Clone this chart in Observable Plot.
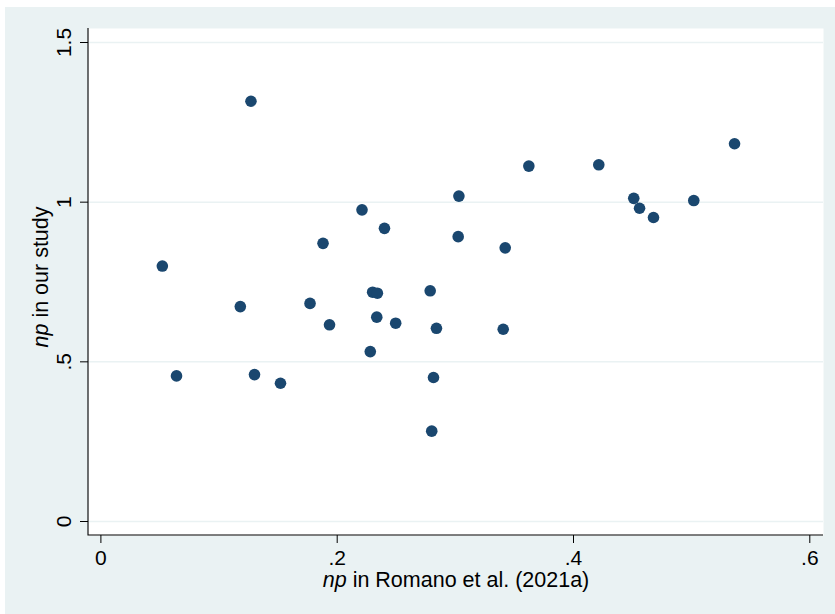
<!DOCTYPE html>
<html><head><meta charset="utf-8">
<script src="https://cdn.jsdelivr.net/npm/d3@7"></script>
<script src="https://cdn.jsdelivr.net/npm/@observablehq/plot@0.6"></script>
<style>
html,body{margin:0;padding:0;background:#fff;}
#chart{position:absolute;left:5px;top:7px;}
</style></head><body><div id="chart"></div>
<script>
// np in Romano et al. (2021a)
const xValues = [0.052, 0.064, 0.118, 0.127, 0.130, 0.152, 0.177, 0.188, 0.1935, 0.221, 0.228, 0.230, 0.234, 0.2335, 0.240, 0.2495, 0.2787, 0.280, 0.2815, 0.284, 0.303, 0.3024, 0.3405, 0.3422, 0.3622, 0.4214, 0.451, 0.4559, 0.4677, 0.5018, 0.5363];
// np in our study
const yValues = [0.800, 0.456, 0.673, 1.316, 0.460, 0.433, 0.683, 0.871, 0.616, 0.976, 0.532, 0.718, 0.715, 0.640, 0.918, 0.621, 0.7225, 0.283, 0.451, 0.605, 1.019, 0.892, 0.602, 0.857, 1.113, 1.117, 1.012, 0.981, 0.952, 1.005, 1.183];
const xTicks = [0, 0.2, 0.4, 0.6];
const xTickLabels = ["0", ".2", ".4", ".6"];
const yTicks = [0, 0.5, 1, 1.5];
const yTickLabels = ["0", ".5", "1", "1.5"];
const xTitle = ["np", " in Romano et al. (2021a)"];
const yTitle = ["np", " in our study"];

const data = xValues.map((x, i) => ({x, y: yValues[i]}));
const FONT = "'Liberation Sans', Arial, Helvetica, sans-serif";

const axisLine = (index, scales, values, dims) => {
  const l = dims.marginLeft, t = dims.marginTop;
  const b = dims.height - dims.marginBottom, r = dims.width - dims.marginRight;
  const p = document.createElementNS("http://www.w3.org/2000/svg", "path");
  p.setAttribute("d", `M${l},${t}V${b}H${r}`);
  p.setAttribute("fill", "none");
  p.setAttribute("stroke", "#000");
  p.setAttribute("stroke-width", "1.1");
  return p;
};

const chart = Plot.plot({
  width: 830, height: 607,
  marginLeft: 83, marginRight: 12, marginTop: 21, marginBottom: 79,
  style: {background: "#eaf2f3", fontFamily: FONT, fontSize: "21px", color: "#000"},
  x: {domain: [0, 0.6], insetLeft: 12.4, insetRight: 13.7},
  y: {domain: [0, 1.5], insetTop: 14, insetBottom: 14},
  marks: [
    Plot.frame({fill: "white", stroke: null}),
    Plot.gridY(yTicks, {stroke: "#eaf2f3", strokeOpacity: 1, strokeWidth: 1.5}),
    axisLine,
    Plot.axisX(xTicks, {tickSize: 8, tickFormat: () => "", label: null, stroke: "#000"}),
    Plot.axisY(yTicks, {tickSize: 8, tickFormat: () => "", label: null, stroke: "#000"}),
    Plot.text(xTicks, {x: d => d, text: d => xTickLabels[xTicks.indexOf(d)], frameAnchor: "bottom", dy: 22.5, textAnchor: "middle", lineAnchor: "middle", fontSize: 21, fill: "#000"}),
    Plot.text(yTicks, {y: d => d, text: d => yTickLabels[yTicks.indexOf(d)], frameAnchor: "left", dx: -24, rotate: -90, textAnchor: "middle", lineAnchor: "middle", fontSize: 21, fill: "#000"}),
    Plot.text([xTitle.join("")], {text: d => d, frameAnchor: "bottom", dy: 45, textAnchor: "middle", lineAnchor: "middle", fontSize: 21.5, fill: "#000"}),
    Plot.text([yTitle.join("")], {text: d => d, frameAnchor: "left", dx: -47, dy: -5, rotate: -90, textAnchor: "middle", lineAnchor: "middle", fontSize: 21.5, fill: "#000"}),
    Plot.dot(data, {x: "x", y: "y", r: 5.8, fill: "#1a476f", stroke: null})
  ]
});

// italicize "np" in the axis titles
for (const title of [xTitle, yTitle]) {
  const full = title.join("");
  chart.querySelectorAll("text").forEach(el => {
    if (el.textContent === full) {
      el.textContent = "";
      const ts = document.createElementNS("http://www.w3.org/2000/svg", "tspan");
      ts.setAttribute("font-style", "italic");
      ts.textContent = title[0];
      el.appendChild(ts);
      el.appendChild(document.createTextNode(title[1]));
      el.style.whiteSpace = "pre";
    }
  });
}
document.getElementById("chart").appendChild(chart);
</script></body></html>
